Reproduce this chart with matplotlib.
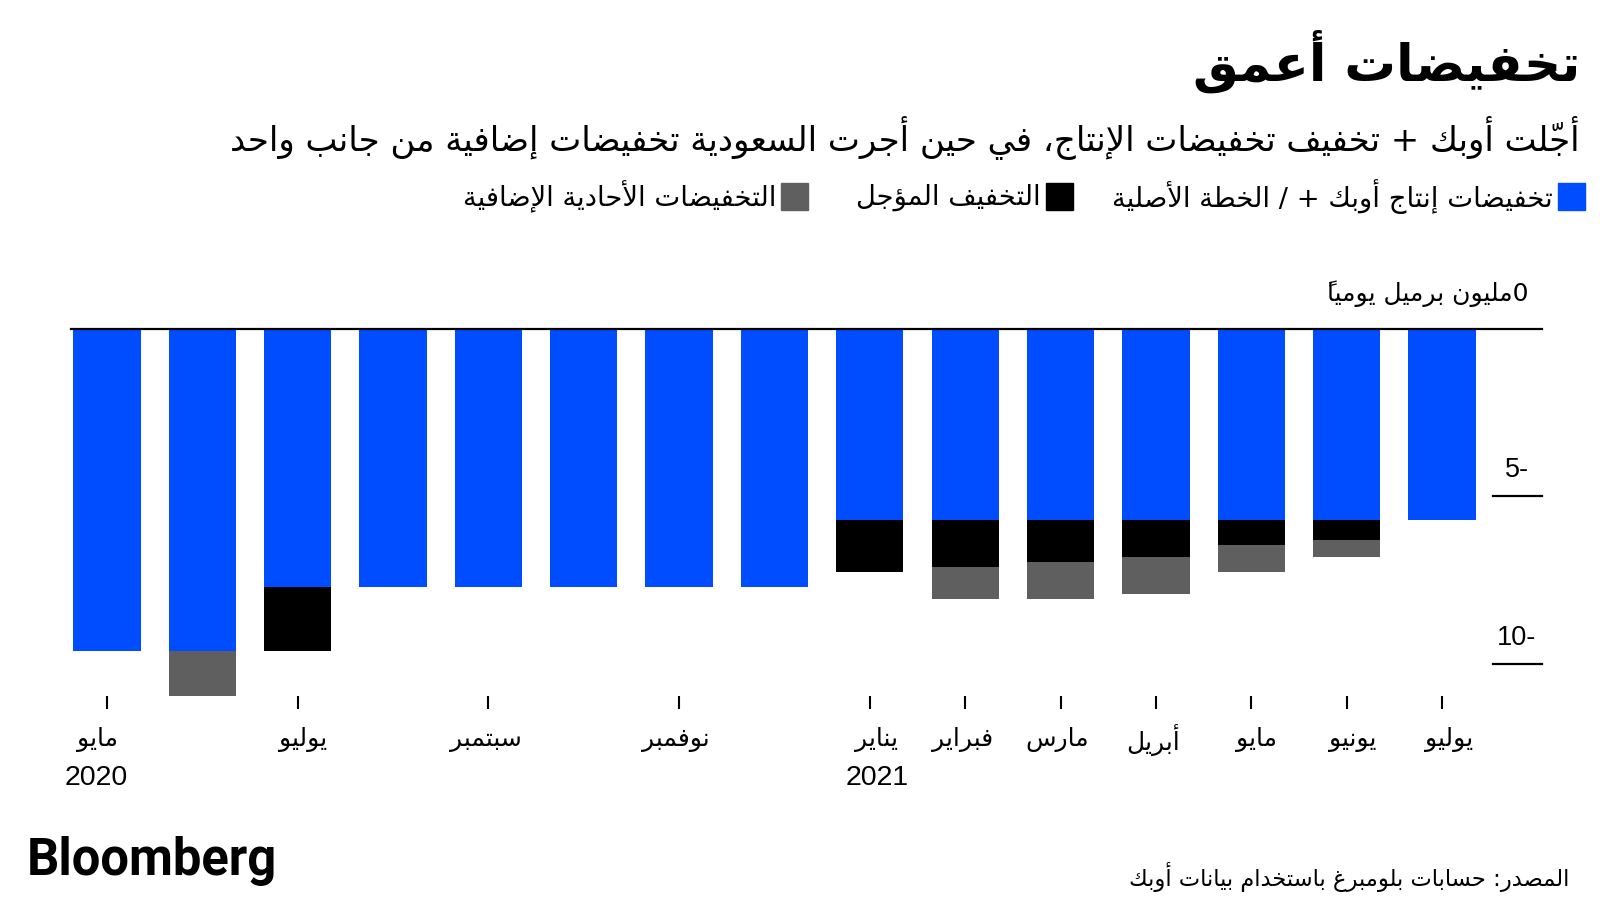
import matplotlib as mpl
mpl.use('Agg')
from matplotlib import pyplot as plt
import matplotlib.patches as patches

# ---- data (million barrels per day) ----
months = ['مايو', 'يونيو', 'يوليو', 'أغسطس', 'سبتمبر', 'أكتوبر', 'نوفمبر', 'ديسمبر',
          'يناير', 'فبراير', 'مارس', 'أبريل', 'مايو', 'يونيو', 'يوليو']
cuts_plan = [9.6, 9.6, 7.7, 7.7, 7.7, 7.7, 7.7, 7.7, 5.7, 5.7, 5.7, 5.7, 5.7, 5.7, 5.7]
deferred = [0, 0, 1.9, 0, 0, 0, 0, 0, 1.55, 1.4, 1.25, 1.1, 0.75, 0.6, 0]
extra_unilateral = [0, 1.35, 0, 0, 0, 0, 0, 0, 0, 0.95, 1.1, 1.1, 0.8, 0.5, 0]
tick_idx = [0, 2, 4, 6, 8, 9, 10, 11, 12, 13, 14]
year_labels = {0: '2020', 8: '2021'}
yticks = [-5, -10]
ytick_labels = ['5-', '10-']

title = 'تخفيضات أعمق'
subtitle = 'أجّلت أوبك + تخفيف تخفيضات الإنتاج، في حين أجرت السعودية تخفيضات إضافية من جانب واحد'
legend_labels = ['تخفيضات إنتاج أوبك + / الخطة الأصلية', 'التخفيف المؤجل',
                 'التخفيضات الأحادية الإضافية']
unit_label = '0مليون برميل يومياً'
source = 'المصدر: حسابات بلومبرغ باستخدام بيانات أوبك'

BLUE = '#004dff'
BLACK = '#000000'
GRAY = '#5f5f5f'

################################
## minimal arabic shaping ######
################################
DUAL = {'ئ': 0xFE89, 'ب': 0xFE8F, 'ت': 0xFE95, 'ث': 0xFE99, 'ج': 0xFE9D,
        'ح': 0xFEA1, 'خ': 0xFEA5, 'س': 0xFEB1, 'ش': 0xFEB5, 'ص': 0xFEB9,
        'ض': 0xFEBD, 'ط': 0xFEC1, 'ظ': 0xFEC5, 'ع': 0xFEC9, 'غ': 0xFECD,
        'ف': 0xFED1, 'ق': 0xFED5, 'ك': 0xFED9, 'ل': 0xFEDD, 'م': 0xFEE1,
        'ن': 0xFEE5, 'ه': 0xFEE9, 'ي': 0xFEF1}
RIGHT = {'آ': 0xFE81, 'أ': 0xFE83, 'ؤ': 0xFE85, 'إ': 0xFE87, 'ا': 0xFE8D,
         'ة': 0xFE93, 'د': 0xFEA9, 'ذ': 0xFEAB, 'ر': 0xFEAD, 'ز': 0xFEAF,
         'و': 0xFEED, 'ى': 0xFEEF}
LAMALEF = {'آ': 0xFEF5, 'أ': 0xFEF7, 'إ': 0xFEF9, 'ا': 0xFEFB}
MARKS = set(chr(c) for c in range(0x064B, 0x0653))


def jtype(t):
    if t in MARKS:
        return 'T'
    if t in DUAL:
        return 'D'
    if t in RIGHT or len(t) == 2:
        return 'R'
    return 'U'


def ar(s):
    toks = []
    i = 0
    while i < len(s):
        if s[i] == 'ل' and i + 1 < len(s) and s[i + 1] in LAMALEF:
            toks.append(s[i:i + 2])
            i += 2
        else:
            toks.append(s[i])
            i += 1
    shaped = []
    for k, t in enumerate(toks):
        j = jtype(t)
        if j not in 'DR':
            shaped.append(t)
            continue
        p = k - 1
        while p >= 0 and jtype(toks[p]) == 'T':
            p -= 1
        n = k + 1
        while n < len(toks) and jtype(toks[n]) == 'T':
            n += 1
        before = p >= 0 and jtype(toks[p]) == 'D'
        after = j == 'D' and n < len(toks) and jtype(toks[n]) in 'DR'
        if len(t) == 2:
            shaped.append(chr(LAMALEF[t[1]] + before))
        elif j == 'R':
            shaped.append(chr(RIGHT[t] + before))
        else:
            off = 3 if (before and after) else 1 if before else 2 if after else 0
            shaped.append(chr(DUAL[t] + off))
    # clusters: the zero-width mark is drawn just before its base so it sits on it
    clusters = []
    for c in shaped:
        if c in MARKS and clusters:
            clusters[-1] = c + clusters[-1]
        else:
            clusters.append(c)
    runs = []
    for c in clusters:
        ltr = c[-1].isascii() and c[-1].isalnum()
        if runs and ltr and runs[-1][0]:
            runs[-1][1].append(c)
        else:
            runs.append([ltr, [c]])
    return ''.join(''.join(r) for _, r in reversed(runs))


AR_FONT = ['DejaVu Sans']
NUM_FONT = ['Liberation Sans', 'DejaVu Sans']

W, H = 1600, 900
fig = plt.figure(figsize=(16, 9), dpi=100)


def fx(px):
    return px / W


def fy(py):
    return 1 - py / H


# axes placed in pixel terms: zero line at y=328.6, bottom at y=696
top_px, bot_px = 328.6, 696.0
left_px, right_px = 71.4, 1542.0
ax = fig.add_axes([fx(left_px), fy(bot_px), fx(right_px - left_px), (bot_px - top_px) / H])

x = list(range(len(months)))
bw = 0.706
neg_plan = [-v for v in cuts_plan]
neg_def = [-v for v in deferred]
neg_extra = [-v for v in extra_unilateral]
bottom2 = [a + b for a, b in zip(neg_plan, neg_def)]

ax.bar(x, neg_plan, width=bw, color=BLUE, zorder=2, clip_on=False)
ax.bar(x, neg_def, width=bw, bottom=neg_plan, color=BLACK, zorder=2, clip_on=False)
ax.bar(x, neg_extra, width=bw, bottom=bottom2, color=GRAY, zorder=2, clip_on=False)

ax.set_xlim(-0.374, 15.05)
ax.set_ylim(-10.95, 0)
ax.axhline(0, color='black', lw=1.6, zorder=3, clip_on=False)

for spine in ax.spines.values():
    spine.set_visible(False)
ax.set_yticks([])
ax.set_xticks(tick_idx)
ax.set_xticklabels([])
ax.tick_params(axis='x', length=9.5, width=1.5, direction='out', color='black')

# month and year labels
month_shift = {0: -0.1, 2: 0.06, 8: 0.07, 12: 0.06, 13: 0.06, 14: 0.08}
for i in tick_idx:
    ax.text(i + month_shift.get(i, -0.03), -0.119, ar(months[i]),
            transform=ax.get_xaxis_transform(),
            ha='center', va='center', fontsize=18, family=AR_FONT)
year_x = {0: -0.11, 8: 8.08}
for i, yr in year_labels.items():
    ax.text(year_x[i], -0.222, yr, transform=ax.get_xaxis_transform(),
            ha='center', va='center', fontsize=20.5, family=NUM_FONT)

# right-hand value scale
ytr = ax.get_yaxis_transform()
for yv, lab in zip(yticks, ytick_labels):
    ax.axhline(yv, xmin=0.9667, xmax=1.0, color='black', lw=1.6, clip_on=False)
    ax.text(0.983, yv + 0.79, lab, transform=ytr, ha='center', va='center',
            fontsize=19.5, family=NUM_FONT)
ax.text(0.991, 1.03, ar(unit_label), transform=ytr, ha='right', va='center',
        fontsize=18, family=AR_FONT)

# title block
fig.text(fx(1580), fy(61), ar(title), ha='right', va='center', fontsize=37,
         fontweight='bold', family=AR_FONT)
fig.text(fx(1580), fy(137), ar(subtitle), ha='right', va='center', fontsize=24.5,
         family=AR_FONT)

# legend (squares on the right of each label)
leg_sq = [1558, 1046, 781]
for sx, lab, col in zip(leg_sq, legend_labels, [BLUE, BLACK, GRAY]):
    fig.add_artist(patches.Rectangle((fx(sx), fy(210)), fx(27), 27 / H,
                                     transform=fig.transFigure, color=col))
    fig.text(fx(sx - 5), fy(197), ar(lab), ha='right', va='center', fontsize=19.7,
             family=AR_FONT)

# footer
fig.text(fx(27), fy(861), 'Bloomberg', ha='left', va='center', fontsize=36.5,
         fontweight='bold', family=['Roboto', 'DejaVu Sans'])
fig.text(fx(1569), fy(877), ar(source), ha='right', va='center', fontsize=16.3,
         family=AR_FONT)

plt.savefig('out.png', dpi=100)
plt.close()
